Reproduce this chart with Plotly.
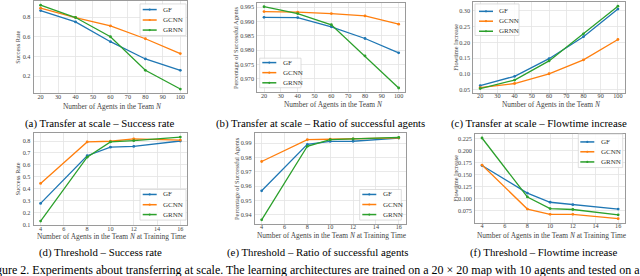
import plotly.graph_objects as go

W, H = 640, 276

# ---------------- data ----------------
series_names = ["GF", "GCNN", "GRNN"]
colors = ["#1f77b4", "#ff7f0e", "#2ca02c"]

n_scale = [20, 40, 60, 80, 100]
n_train = [4, 8, 10, 12, 16]

a_gf = [0.865, 0.750, 0.550, 0.375, 0.260]
a_gcnn = [0.890, 0.795, 0.710, 0.580, 0.430]
a_grnn = [0.920, 0.795, 0.600, 0.260, 0.070]

b_gf = [0.9915, 0.9914, 0.9882, 0.9841, 0.9791]
b_gcnn = [0.9935, 0.9933, 0.9928, 0.9920, 0.9891]
b_grnn = [0.9952, 0.9928, 0.9889, 0.9780, 0.9668]

c_gf = [0.062, 0.092, 0.148, 0.218, 0.306]
c_gcnn = [0.056, 0.069, 0.100, 0.144, 0.209]
c_grnn = [0.053, 0.080, 0.141, 0.227, 0.315]

d_gf = [0.278, 0.677, 0.748, 0.755, 0.800]
d_gcnn = [0.445, 0.792, 0.798, 0.818, 0.808]
d_grnn = [0.130, 0.665, 0.792, 0.803, 0.833]

e_gf = [0.9568, 0.9891, 0.9912, 0.9913, 0.9935]
e_gcnn = [0.9772, 0.9924, 0.9927, 0.9930, 0.9936]
e_grnn = [0.9366, 0.9878, 0.9924, 0.9929, 0.9940]

f_gf = [0.169, 0.112, 0.093, 0.088, 0.079]
f_gcnn = [0.170, 0.079, 0.068, 0.068, 0.059]
f_grnn = [0.226, 0.104, 0.080, 0.078, 0.067]

captions = [
    "(a) Transfer at scale – Success rate",
    "(b) Transfer at scale – Ratio of successful agents",
    "(c) Transfer at scale – Flowtime increase",
    "(d) Threshold – Success rate",
    "(e) Threshold – Ratio of successful agents",
    "(f) Threshold – Flowtime increase",
]
xtitle_scale = "Number of Agents in the Team <i>N</i>"
xtitle_train = "Number of Agents in the Team <i>N</i> at Training Time"
ytitles = ["Success Rate", "Percentage of Successful Agents", "Flowtime Increase",
           "Success Rate", "Percentage of Successful Agents", "Flowtime Increase"]
figure_text = ("Figure 2. Experiments about transferring at scale. The learning architectures "
               "are trained on a 20 × 20 map with 10 agents and tested on a larger map")

panels = [
    (n_scale, [a_gf, a_gcnn, a_grnn], 10, 0.2, ".1f"),
    (n_scale, [b_gf, b_gcnn, b_grnn], 10, 0.005, ".3f"),
    (n_scale, [c_gf, c_gcnn, c_grnn], 10, 0.05, ".2f"),
    (n_train, [d_gf, d_gcnn, d_grnn], 2, 0.1, ".1f"),
    (n_train, [e_gf, e_gcnn, e_grnn], 2, 0.01, ".2f"),
    (n_train, [f_gf, f_gcnn, f_grnn], 2, 0.025, ".3f"),
]

# ---------------- layout (pixels) ----------------
doms = [
    (33.6, 187.3, 0.0, 93.6),
    (257.3, 405.4, 1.7, 92.4),
    (473.3, 624.8, 1.1, 93.0),
    (33.6, 187.3, 133.8, 227.6),
    (254.8, 405.6, 134.2, 226.2),
    (475.2, 625.0, 134.9, 225.0),
]
legend_spec = [
    (140.0, 186.0, 3.0, 35.0, [8.7, 19.3, 29.5], 142.7, 156.7, 161.0),
    (259.7, 301.0, 58.0, 88.0, [62.5, 72.7, 83.0], 262.3, 276.3, 280.8),
    (475.0, 519.0, 3.0, 35.0, [10.5, 20.5, 30.7], 479.0, 493.0, 497.0),
    (140.0, 186.0, 191.3, 222.3, [196.3, 206.7, 216.7], 142.7, 156.7, 161.0),
    (359.7, 401.3, 191.3, 222.3, [196.3, 206.5, 216.7], 362.3, 376.3, 380.8),
    (578.3, 622.7, 135.0, 169.0, [143.0, 153.0, 163.3], 580.3, 594.3, 598.8),
]
caption_pos = [(100, 124.5), (320.5, 124.0), (538.5, 124.0),
               (100, 255.5), (318.3, 255.5), (543.5, 255.0)]
ytitle_x = [16.7, 235.7, 455.3, 17.3, 236.3, 455.3]
xtitle_y = [107.0, 105.0, 105.5, 238.5, 238.0, 237.5]

FONT = "Liberation Serif, Times New Roman, Times, serif"


def px(x):
    return x / W


def py(y):
    return 1 - y / H


fig = go.Figure()
layout = dict(width=W, height=H, margin=dict(l=0, r=0, t=0, b=0),
              paper_bgcolor="white", plot_bgcolor="white", showlegend=False,
              font=dict(family=FONT, color="#333333"))
shapes = []
annotations = []

for i, (xs, ys_list, xdt, ydt, yfmt) in enumerate(panels):
    k = "" if i == 0 else str(i + 1)
    x0, x1, y0, y1 = doms[i]
    xmin, xmax = min(xs), max(xs)
    xm = (xmax - xmin) * 0.05
    allv = [v for s in ys_list for v in s]
    ymin, ymax = min(allv), max(allv)
    ym = (ymax - ymin) * 0.05
    axstyle = dict(showgrid=True, gridcolor="#e3e3e3", gridwidth=0.8,
                   showline=True, linecolor="#9a9a9a", linewidth=1, mirror=True,
                   zeroline=False, ticks="",
                   tickfont=dict(size=6.2, family=FONT, color="#444"))
    layout["xaxis" + k] = dict(domain=[px(x0), px(x1)], anchor="y" + k,
                               range=[xmin - xm, xmax + xm], dtick=xdt, tick0=0,
                               ticklabelstandoff=-3, **axstyle)
    layout["yaxis" + k] = dict(domain=[py(y1), py(y0)], anchor="x" + k,
                               range=[ymin - ym, ymax + ym], dtick=ydt, tick0=0,
                               tickformat=yfmt, ticklabelstandoff=1, **axstyle)
    for j, ys in enumerate(ys_list):
        fig.add_trace(go.Scatter(x=xs, y=ys, mode="lines+markers", name=series_names[j],
                                 line=dict(color=colors[j], width=1.3),
                                 marker=dict(color=colors[j], size=2.8),
                                 xaxis="x" + k, yaxis="y" + k))

    # legend
    bx0, bx1, by0, by1, eys, lx0, lx1, tx = legend_spec[i]
    shapes.append(dict(type="rect", xref="paper", yref="paper",
                       x0=px(bx0), x1=px(bx1), y0=py(by1), y1=py(by0),
                       line=dict(color="#d5d5d5", width=0.8),
                       fillcolor="rgba(255,255,255,0.85)", layer="above"))
    for j, ey in enumerate(eys):
        shapes.append(dict(type="line", xref="paper", yref="paper",
                           x0=px(lx0), x1=px(lx1), y0=py(ey), y1=py(ey),
                           line=dict(color=colors[j], width=1.5), layer="above"))
        cx = (lx0 + lx1) / 2
        shapes.append(dict(type="circle", xref="paper", yref="paper",
                           x0=px(cx - 1.1), x1=px(cx + 1.1), y0=py(ey + 1.1), y1=py(ey - 1.1),
                           line=dict(color=colors[j], width=0), fillcolor=colors[j],
                           layer="above"))
        annotations.append(dict(text=series_names[j], xref="paper", yref="paper",
                                x=px(tx), y=py(ey), xanchor="left", yanchor="middle",
                                showarrow=False, font=dict(size=7, family=FONT, color="#333")))

    # axis titles
    annotations.append(dict(text=xtitle_scale if i < 3 else xtitle_train,
                            xref="paper", yref="paper", x=px((x0 + x1) / 2 + 2),
                            y=py(xtitle_y[i]), xanchor="center", yanchor="middle",
                            showarrow=False, font=dict(size=7.4, family=FONT, color="#444")))
    annotations.append(dict(text=ytitles[i], xref="paper", yref="paper",
                            x=px(ytitle_x[i]), y=py((y0 + y1) / 2), textangle=-90,
                            xanchor="center", yanchor="middle", showarrow=False,
                            font=dict(size=6.3, family=FONT, color="#444")))
    # caption
    cxp, cyp = caption_pos[i]
    annotations.append(dict(text=captions[i], xref="paper", yref="paper",
                            x=px(cxp), y=py(cyp), xanchor="center", yanchor="middle",
                            showarrow=False, font=dict(size=10.8, family=FONT, color="black")))

annotations.append(dict(text=figure_text, xref="paper", yref="paper",
                        x=px(-15.8), y=py(272.5), xanchor="left", yanchor="middle",
                        showarrow=False, font=dict(size=12, family=FONT, color="black")))

layout["shapes"] = shapes
layout["annotations"] = annotations
fig.update_layout(**layout)
fig.write_html("out.html", config={"displayModeBar": False, "staticPlot": True},
               post_script="document.body.style.margin='0px';document.body.style.overflow='hidden';")
